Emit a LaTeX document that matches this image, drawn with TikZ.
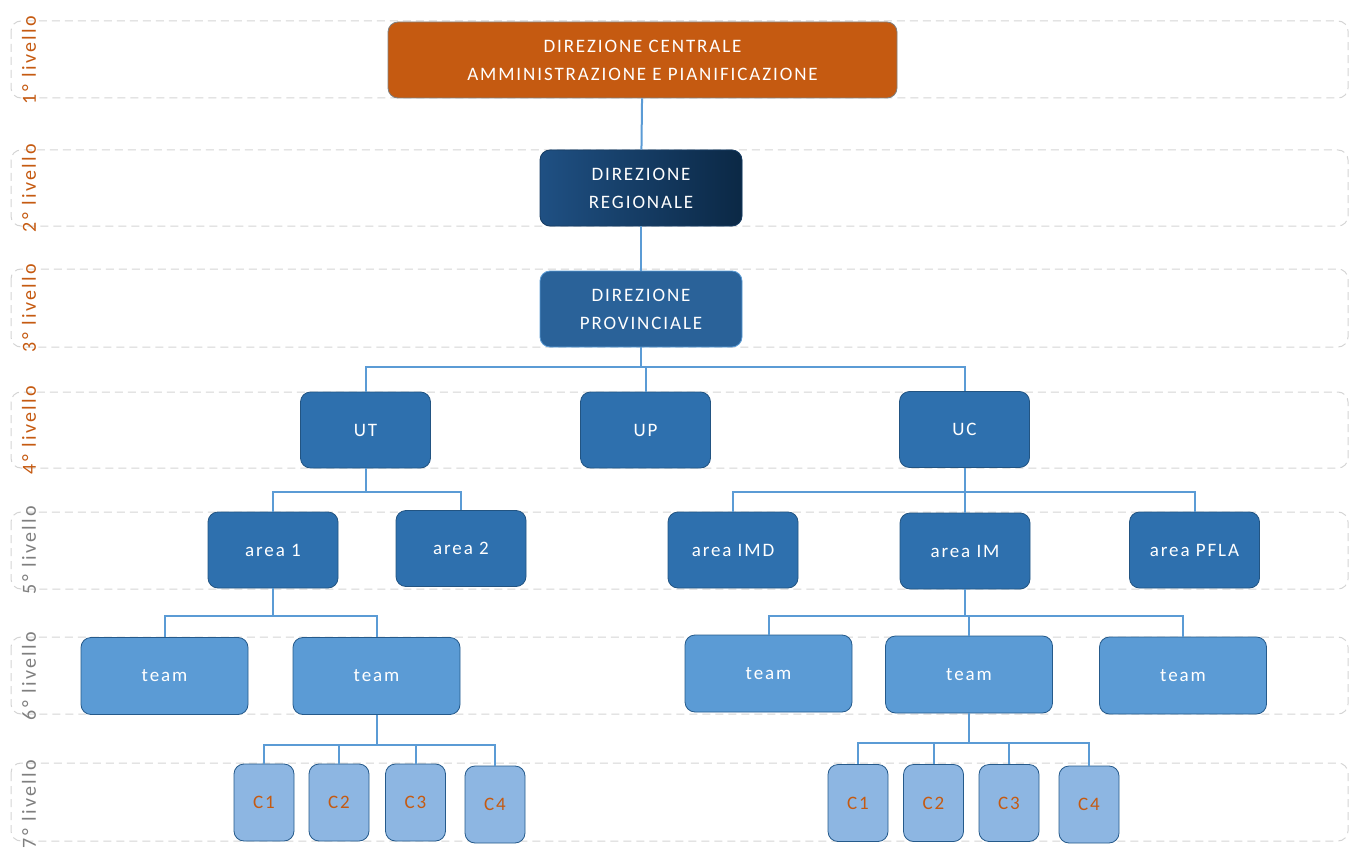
\documentclass[tikz,border=0pt]{standalone}
\usepackage{fontspec}
\setmainfont{Carlito}
\newfontfamily\boxfont[LetterSpace=10]{Carlito}
\newfontfamily\lvlfont[LetterSpace=12]{Carlito}
\usetikzlibrary{positioning}

\definecolor{dcorange}{HTML}{C55A11}
\definecolor{drleft}{HTML}{1F5083}
\definecolor{drright}{HTML}{0B2845}
\definecolor{dpblue}{HTML}{2A6299}
\definecolor{unitblue}{HTML}{2E70AE}
\definecolor{teamblue}{HTML}{5B9BD5}
\definecolor{cblue}{HTML}{8DB6E2}
\definecolor{linkblue}{HTML}{5B9BD5}
\definecolor{bandgray}{HTML}{D4D4D4}
\definecolor{lvlgray}{HTML}{7F7F7F}

\begin{document}
\begin{tikzpicture}[x=1pt,y=-1pt,
    band/.style={draw=bandgray,line width=1pt,dash pattern=on 8pt off 5pt,rounded corners=10pt},
    lvl/.style={rotate=90,inner sep=0pt,font=\lvlfont\fontsize{20}{20}\selectfont},
    org/.style={rounded corners=10pt,draw=#1!75!black,fill=#1,line width=0.8pt,text=white,
                inner sep=0pt,align=center,font=\boxfont\fontsize{19}{28}\selectfont},
    unit node/.style={org=unitblue,minimum width=130pt,minimum height=76pt},
    team node/.style={org=teamblue,draw=unitblue!80!black,minimum width=167pt,minimum height=77pt},
    c node/.style={org=cblue,draw=unitblue!80!black,text=dcorange,minimum width=60pt,minimum height=77pt},
    link/.style={draw=linkblue,line width=2pt}]

  \useasboundingbox (0,0) rectangle (1350,848);

  % livelli
  \foreach \t/\b in {21/98,150/226,269/347,392/468,512/589,637/714,763/841}
    \draw[band] (11,\t) rectangle (1348,\b);
  \foreach \c/\n/\col in {60/1/dcorange,188/2/dcorange,308/3/dcorange,430/4/dcorange,
                          550/5/lvlgray,676/6/lvlgray,804/7/lvlgray}
    \node[lvl,text=\col] (lvl\n) at (29,\c) {\n° livello};

  % vertice
  \node[org=dcorange,draw=lvlgray,minimum width=509pt,minimum height=76pt] (dc) at (642.5,60)
    {DIREZIONE CENTRALE\\AMMINISTRAZIONE E PIANIFICAZIONE};
  \node[org=drleft,left color=drleft,right color=drright,minimum width=202pt,minimum height=76pt] (dr)
    at (641,188) {DIREZIONE\\REGIONALE};
  \node[org=dpblue,draw=teamblue,minimum width=202pt,minimum height=76pt] (dp)
    at (641,309) {DIREZIONE\\PROVINCIALE};

  % uffici
  \node[unit node] (ut) at (365.5,430) {UT};
  \node[unit node] (up) at (645.5,430) {UP};
  \node[unit node] (uc) at (964.5,429.5) {UC};

  % aree
  \node[unit node] (a1) at (273,550) {area 1};
  \node[unit node] (a2) at (461,548.5) {area 2};
  \node[unit node] (imd) at (733,550) {area IMD};
  \node[unit node] (im) at (965,551) {area IM};
  \node[unit node] (pfla) at (1194.5,550) {area PFLA};

  % team
  \node[team node] (t1) at (164.5,676) {team};
  \node[team node] (t2) at (376.5,676) {team};
  \node[team node] (t3) at (768.5,673.5) {team};
  \node[team node] (t4) at (969,674.5) {team};
  \node[team node] (t5) at (1183,675.5) {team};

  % componenti
  \node[c node] (lc1) at (264,802.5) {C1};
  \node[c node] (lc2) at (339,802.5) {C2};
  \node[c node] (lc3) at (415.5,802.5) {C3};
  \node[c node] (lc4) at (495,804.5) {C4};
  \node[c node] (rc1) at (858,803) {C1};
  \node[c node] (rc2) at (933.5,803) {C2};
  \node[c node] (rc3) at (1009,803) {C3};
  \node[c node] (rc4) at (1089,804.5) {C4};

  % collegamenti
  \draw[link] (dc) -- (dr);
  \draw[link] (dr) -- (dp);
  \foreach \u in {ut,up,uc}
    \draw[link] (dp.south) -- ++(0,20) -| (\u.north);
  \foreach \a in {a1,a2}
    \draw[link] (ut.south) -- ++(0,24) -| (\a.north);
  \foreach \a in {imd,im,pfla}
    \draw[link] (uc.south) -- ++(0,24) -| (\a.north);
  \foreach \t in {t1,t2}
    \draw[link] (a1.south) -- ++(0,28) -| (\t.north);
  \foreach \t in {t3,t4,t5}
    \draw[link] (im.south) -- ++(0,27) -| (\t.north);
  \foreach \c in {lc1,lc2,lc3,lc4}
    \draw[link] (t2.south) -- ++(0,30) -| (\c.north);
  \foreach \c in {rc1,rc2,rc3,rc4}
    \draw[link] (t4.south) -- ++(0,30) -| (\c.north);
\end{tikzpicture}
\end{document}
